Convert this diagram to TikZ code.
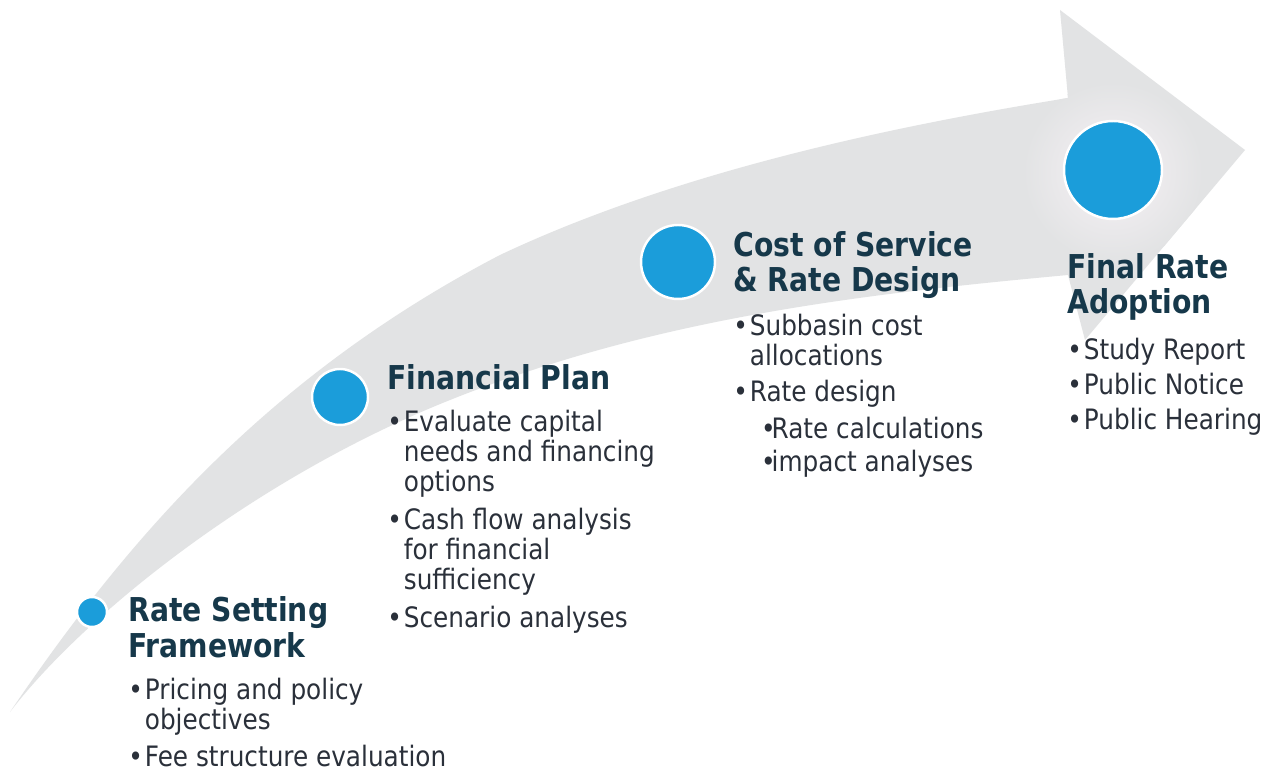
\documentclass[tikz,border=0pt]{standalone}
\usepackage{fontspec}
\usepackage{tikz}
\newfontfamily\headfont{DejaVu Sans}[FakeStretch=0.86]
\newfontfamily\listfont{DejaVu Sans}[FakeStretch=0.88]
\definecolor{arrowgray}{RGB}{226,227,228}
\definecolor{glow}{RGB}{247,242,246}
\definecolor{dotblue}{RGB}{27,157,218}
\definecolor{headnavy}{RGB}{22,56,74}
\definecolor{listink}{RGB}{42,48,58}
\newcommand{\bl}{\makebox[9.4pt][l]{\textbullet}}
\newcommand{\ind}{\hspace*{9.4pt}}
\newcommand{\sbl}{\hspace*{15.8pt}\makebox[6pt][l]{\textbullet}}
\tikzset{dot/.style={circle,fill=dotblue,draw=white,line width=1.4pt,inner sep=0pt,minimum size=#1},
        head/.style={font=\headfont\bfseries\fontsize{18.7}{20}\selectfont,
            text=headnavy,align=left,inner sep=0pt,anchor=base west},
        items/.style={font=\listfont\fontsize{16}{17}\selectfont,
            text=listink,align=left,inner sep=0pt,anchor=base west}}
\def\arrowpath{(10,712) .. controls (120,550) and (260,380) .. (500,255)
    .. controls (680,170) and (900,125) .. (1068,98) -- (1060,10) -- (1245,150)
    -- (1085,340) -- (1068,275) .. controls (850,295) and (650,320) .. (450,400)
    .. controls (250,480) and (80,620) .. (10,712) -- cycle}

\begin{document}
\begin{tikzpicture}[x=0.02cm,y=-0.02cm]
    \useasboundingbox (0,0) rectangle (1268,773);
    \fill[white] (0,0) rectangle (1268,773);

    \fill[arrowgray] \arrowpath;
    \begin{scope}
        \clip \arrowpath;
        \shade[inner color=glow,outer color=arrowgray] (1113,172) circle (1.8cm);
    \end{scope}

    \node[dot=0.6cm] (d1) at (92,612) {};
    \node[dot=1.12cm] (d2) at (340,397) {};
    \node[dot=1.48cm] (d3) at (678,262) {};
    \node[dot=1.96cm] (d4) at (1113,170) {};

    % base anchors sit on the last line
    \node[head] (h1) at (128,657) {Rate Setting\\Framework};
    \node[head] (h2) at (387,390) {Financial Plan};
    \node[head] (h3) at (733,292) {Cost of Service\\\& Rate Design};
    \node[head] (h4) at (1067,314) {Final Rate\\Adoption};

    \node[items] (l1) at (128,766) {\bl Pricing and policy\\\ind objectives\\[4pt]
        \bl Fee structure evaluation};
    \node[items] (l2) at (387,627) {\bl Evaluate capital\\\ind needs and financing\\\ind options\\[4.5pt]
        \bl Cash flow analysis\\\ind for financial\\\ind sufficiency\\[4.5pt]
        \bl Scenario analyses};
    \node[items] (l3) at (733,472) {\bl Subbasin cost\\\ind allocations\\[3.5pt]
        \bl Rate design\\[4.5pt]
        \sbl Rate calculations\\[1.8pt]
        \sbl impact analyses};
    \node[items] (l4) at (1067,430) {\bl Study Report\\[3pt]
        \bl Public Notice\\[3pt]
        \bl Public Hearing};
\end{tikzpicture}
\end{document}
